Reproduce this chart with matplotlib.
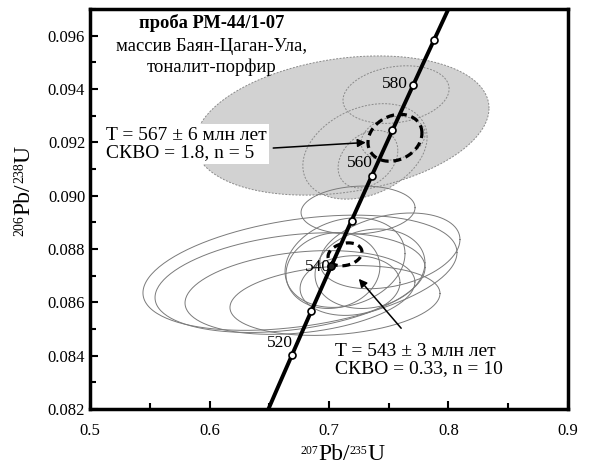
import numpy as np
import matplotlib
matplotlib.use("Agg")
import matplotlib.pyplot as plt
from matplotlib.ticker import MultipleLocator, FormatStrFormatter

plt.rcParams['font.family'] = ['Liberation Serif', 'DejaVu Serif']

# Decay constants (1/yr)
L238 = 1.55125e-10
L235 = 9.8485e-10

# Concordia age marks (Ma)
marker_ages = [520, 530, 540, 550, 560, 570, 580, 590]
label_ages = [520, 540, 560, 580]
label_xy = [(0.659, 0.08446), (0.6905, 0.08734), (0.7259, 0.09122), (0.7552, 0.09420)]

# Upper group (gray), 207/235, 206/238, sx, sy, rho
up_cx = [0.7109, 0.7301, 0.7561, 0.7326, 0.7536]
up_cy = [0.09263, 0.09166, 0.09379, 0.09137, 0.09215]
up_sx = [0.1230, 0.0520, 0.0444, 0.0250, 0.0268]
up_sy = [0.00261, 0.00179, 0.00108, 0.00108, 0.00082]
up_rho = [0.25, 0.30, 0.20, 0.30, 0.20]

# Lower group (open ellipses)
lo_cx = [0.6757, 0.6674, 0.6757, 0.7050, 0.7243, 0.7033, 0.7134, 0.7343, 0.7176, 0.7510]
lo_cy = [0.08711, 0.08674, 0.08637, 0.08607, 0.08946, 0.08719, 0.08749, 0.08726, 0.08663, 0.08793]
lo_sx = [0.1314, 0.1130, 0.0962, 0.0879, 0.0477, 0.0393, 0.0502, 0.0460, 0.0418, 0.0586]
lo_sy = [0.00216, 0.00187, 0.00157, 0.00131, 0.00090, 0.00142, 0.00168, 0.00149, 0.00112, 0.00142]
lo_rho = [0.35, 0.30, 0.25, 0.20, 0.10, 0.10, 0.20, 0.15, 0.10, 0.30]

# Concordia ages (dashed bold ellipses)
age_cx = [0.7552, 0.7134]
age_cy = [0.09217, 0.08780]
age_sx = [0.0226, 0.0142]
age_sy = [0.00088, 0.00043]
age_rho = [0.2, 0.2]


def concordia(t_ma):
    t = np.asarray(t_ma) * 1e6
    return np.exp(L235 * t) - 1, np.exp(L238 * t) - 1


def ellipse_xy(cx, cy, sx, sy, rho, n=200):
    a = np.linspace(0, 2 * np.pi, n)
    x = cx + sx * np.cos(a)
    y = cy + sy * (rho * np.cos(a) + np.sqrt(1 - rho ** 2) * np.sin(a))
    return x, y


fig = plt.figure(figsize=(5.95, 4.66), dpi=100)
ax = fig.add_axes([0.1513, 0.1223, 0.8033, 0.8584])

for i in range(len(up_cx)):
    x, y = ellipse_xy(up_cx[i], up_cy[i], up_sx[i], up_sy[i], up_rho[i])
    ax.fill(x, y, color='#d2d2d2', zorder=1, lw=0)
for i in range(len(up_cx)):
    x, y = ellipse_xy(up_cx[i], up_cy[i], up_sx[i], up_sy[i], up_rho[i])
    ax.plot(x, y, color='#8a8a8a', lw=0.7, ls=(0, (2, 1.5)), zorder=2)

for i in range(len(lo_cx)):
    x, y = ellipse_xy(lo_cx[i], lo_cy[i], lo_sx[i], lo_sy[i], lo_rho[i])
    ax.plot(x, y, color='#7a7a7a', lw=0.7, zorder=3)

for i in range(len(age_cx)):
    x, y = ellipse_xy(age_cx[i], age_cy[i], age_sx[i], age_sy[i], age_rho[i])
    ax.plot(x, y, color='black', lw=2.3, ls=(0, (2.5, 1.5)), zorder=4)

# Concordia curve
tt = np.linspace(500, 605, 300)
cx_, cy_ = concordia(tt)
ax.plot(cx_, cy_, color='black', lw=2.8, zorder=5)
mx, my = concordia(marker_ages)
ax.plot(mx, my, 'o', ms=5, mfc='white', mec='black', mew=1.2, zorder=6)
bx, by = concordia([540])
ax.plot(bx, by, 'o', ms=5, mfc='#222222', mec='black', zorder=6)

for age, (lx, ly) in zip(label_ages, label_xy):
    ax.text(lx, ly, str(age), fontsize=12.5, ha='center', va='center', zorder=7)

# Title block
ax.text(0.255, 0.965, 'проба РМ-44/1-07', transform=ax.transAxes, fontsize=13.3,
        fontweight='bold', ha='center', va='center')
ax.text(0.255, 0.905, 'массив Баян-Цаган-Ула,', transform=ax.transAxes, fontsize=13.4,
        ha='center', va='center')
ax.text(0.255, 0.855, 'тоналит-порфир', transform=ax.transAxes, fontsize=13.4,
        ha='center', va='center')

# Age annotations
ax.text(0.5134, 0.09193, 'T = 567 ± 6 млн лет\nСКВО = 1.8, n = 5', fontsize=14,
        ha='left', va='center', linespacing=1.0, zorder=8,
        bbox=dict(facecolor='white', edgecolor='none', pad=2))
ax.annotate('', xy=(0.7331, 0.09200), xytext=(0.651, 0.09178),
            arrowprops=dict(arrowstyle='-|>', color='black', lw=1.1, mutation_scale=12),
            zorder=8)
ax.text(0.705, 0.08383, 'T = 543 ± 3 млн лет\nСКВО = 0.33, n = 10', fontsize=14,
        ha='left', va='center', linespacing=1.0, zorder=8)
ax.annotate('', xy=(0.7234, 0.08696), xytext=(0.7619, 0.08495),
            arrowprops=dict(arrowstyle='-|>', color='black', lw=1.1, mutation_scale=12),
            zorder=8)

ax.set_xlim(0.5, 0.9)
ax.set_ylim(0.082, 0.097)
ax.xaxis.set_major_locator(MultipleLocator(0.1))
ax.xaxis.set_minor_locator(MultipleLocator(0.05))
ax.yaxis.set_major_locator(MultipleLocator(0.002))
ax.yaxis.set_minor_locator(MultipleLocator(0.001))
ax.xaxis.set_major_formatter(FormatStrFormatter('%.1f'))
ax.yaxis.set_major_formatter(FormatStrFormatter('%.3f'))
ax.tick_params(which='both', direction='in', labelsize=12, width=1.5)
ax.tick_params(which='major', length=6)
ax.tick_params(which='minor', length=4)
ax.tick_params(axis='x', pad=10)
for s in ax.spines.values():
    s.set_linewidth(2.5)

# Axis titles built from pieces so the isotope numbers stay small
pix = 'figure pixels'
xb1 = ax.annotate('Pb/', xy=(318, 0.5), xycoords=pix, fontsize=17, ha='left', va='bottom')
ax.annotate('207', xy=(0, 1), xycoords=xb1, xytext=(0, 0), textcoords='offset points',
            fontsize=8.5, ha='right', va='top')
xs2 = ax.annotate('235', xy=(1, 1), xycoords=xb1, xytext=(0, 0), textcoords='offset points',
                  fontsize=8.5, ha='left', va='top')
ax.annotate('U', xy=(1, 0), xycoords=(xs2, xb1), fontsize=17, ha='left', va='bottom')

yb1 = ax.annotate('Pb/', xy=(13, 466 - 215), xycoords=pix, fontsize=17, rotation=90,
                  ha='left', va='bottom')
ax.annotate('206', xy=(0, 0), xycoords=yb1, xytext=(0.5, 0), textcoords='offset points',
            fontsize=10, rotation=90, ha='left', va='top')
ys2 = ax.annotate('238', xy=(0, 1), xycoords=yb1, xytext=(0.5, 0), textcoords='offset points',
                  fontsize=10, rotation=90, ha='left', va='bottom')
ax.annotate('U', xy=(0, 1), xycoords=(yb1, ys2), fontsize=17, rotation=90,
            ha='left', va='bottom')

fig.savefig('out.png', dpi=100)
